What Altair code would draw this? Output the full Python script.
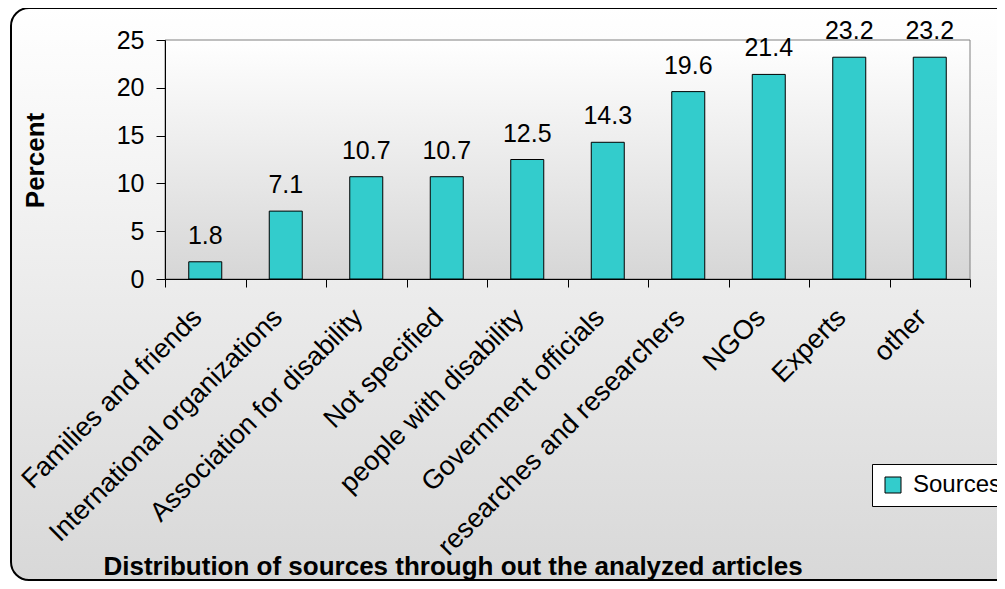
import altair as alt
import pandas as pd

categories = [
    "Families and friends",
    "International organizations",
    "Association for disability",
    "Not specified",
    "people with disability",
    "Government officials",
    "researches and researchers",
    "NGOs",
    "Experts",
    "other",
]
values = [1.8, 7.1, 10.7, 10.7, 12.5, 14.3, 19.6, 21.4, 23.2, 23.2]
series = ["Sources"] * len(categories)
y_ticks = [0, 5, 10, 15, 20, 25]

df = pd.DataFrame({"source": categories, "percent": values, "series": series})

FONT = "Liberation Sans"
W, H = 805, 239

outer_grad = {
    "gradient": "linear", "x1": 0, "y1": 0, "x2": 0, "y2": 1,
    "stops": [{"offset": 0, "color": "#ffffff"}, {"offset": 1, "color": "#d8d8d8"}],
}
plot_grad = {
    "gradient": "linear", "x1": 0, "y1": 0, "x2": 0, "y2": 1,
    "stops": [{"offset": 0, "color": "#ffffff"}, {"offset": 1, "color": "#d6d6d6"}],
}

one = alt.Data(values=[{"k": 1}])

outer = alt.Chart(one).mark_rect(
    fill=outer_grad, stroke="black", strokeWidth=2, cornerRadius=18, clip=False
).encode(
    x=alt.value(-154), x2=alt.value(880), y=alt.value(-32), y2=alt.value(540)
)

plot_bg = alt.Chart(one).mark_rect(
    fill=plot_grad, stroke="#808080", strokeWidth=1
).encode(
    x=alt.value(0), x2=alt.value(W), y=alt.value(0), y2=alt.value(H)
)

base = alt.Chart(df)

xenc = alt.X(
    "source:N", sort=None,
    scale=alt.Scale(paddingInner=0, paddingOuter=0),
    axis=alt.Axis(
        title="Distribution of sources through out the analyzed articles",
        labelAngle=-45, labelAlign="right", labelBaseline="middle",
        labelPadding=26, labelFontSize=27, labelFont=FONT, labelColor="black",
        labelOffset=-8,
        tickBand="extent", tickSize=8, tickColor="black", domainColor="black",
        labelLimit=400, zindex=2,
        titleFont=FONT, titleFontSize=26, titleFontWeight="bold", titleColor="black",
        titleX=-62, titleY=295, titleAlign="left", titleBaseline="alphabetic",
        titleAngle=0,
    ),
)

bars = base.mark_bar(width=33, stroke="black", strokeWidth=1).encode(
    x=xenc,
    y=alt.Y(
        "percent:Q",
        scale=alt.Scale(domain=[0, 25], nice=False),
        axis=alt.Axis(
            title="Percent", values=y_ticks, grid=False, zindex=2,
            labelFontSize=25, labelFont=FONT, labelColor="black", labelPadding=12,
            tickSize=9, tickColor="black", domainColor="black",
            titleFont=FONT, titleFontSize=26, titleFontWeight="bold", titleColor="black",
            titleAngle=-90, titleX=-122, titleY=120, titleAlign="center",
            titleBaseline="alphabetic",
        ),
    ),
    color=alt.Color(
        "series:N",
        scale=alt.Scale(domain=["Sources"], range=["#33CCCC"]),
        legend=alt.Legend(
            title=None, orient="none", legendX=707, legendY=424,
            fillColor="white", strokeColor="black", padding=9,
            symbolType="square", symbolSize=256, symbolStrokeColor="black",
            symbolStrokeWidth=1, symbolOpacity=1,
            labelFont=FONT, labelFontSize=24, labelColor="black", labelOffset=8,
            labelLimit=300,
        ),
    ),
)

labels = base.mark_text(
    baseline="alphabetic", dy=-18, font=FONT, fontSize=25, color="black"
).encode(
    x=alt.X("source:N", sort=None),
    y=alt.Y("percent:Q"),
    text=alt.Text("percent:Q", format=".1f"),
)

chart = alt.layer(outer, plot_bg, bars, labels).properties(
    width=W, height=H,
    autosize=alt.AutoSizeParams(type="none"),
    padding={"left": 157, "top": 32, "right": 27, "bottom": 302},
    background="white",
).configure_view(stroke=None)

chart.save("out.html", embed_options={"renderer": "svg", "actions": False})
